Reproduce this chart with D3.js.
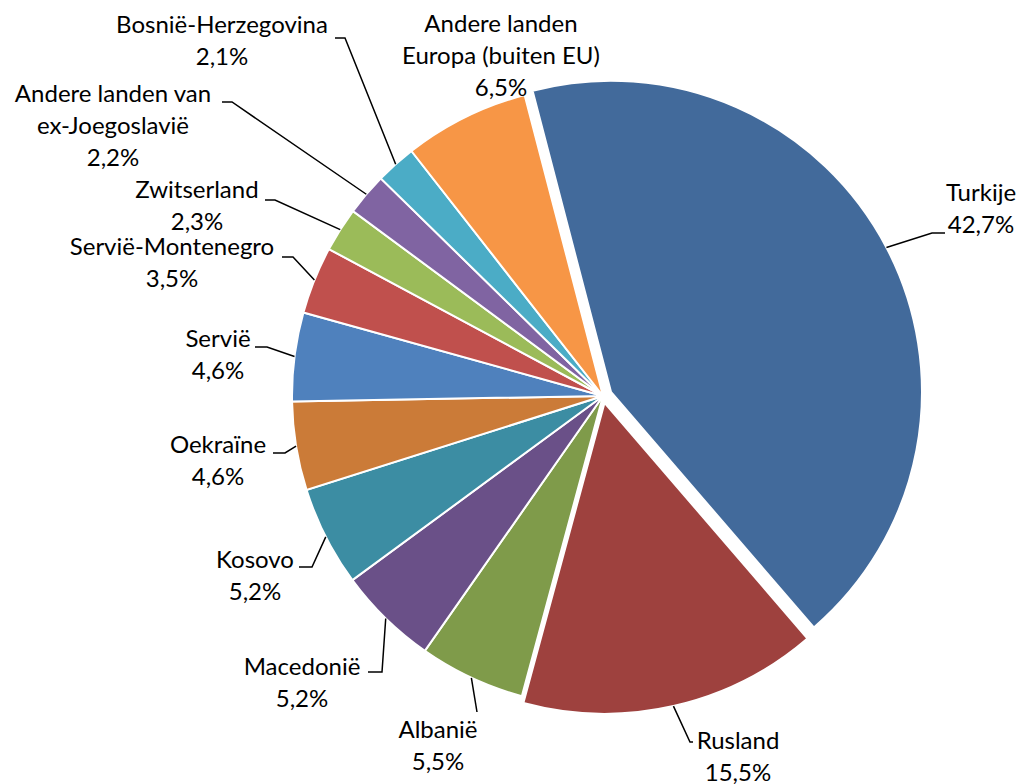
<!DOCTYPE html>
<html>
<head>
<meta charset="utf-8">
<script src="https://cdn.jsdelivr.net/npm/d3@7"></script>
<style>
  body { margin: 0; background: #fff; }
  svg { display: block; }
  text { font-family: Lato, "Open Sans", sans-serif; font-size: 24px; fill: #000; }
</style>
</head>
<body>
<svg id="chart" width="1020" height="784"></svg>
<script>
// data
var landen = ["Turkije", "Rusland", "Albanië", "Macedonië", "Kosovo", "Oekraïne",
  "Servië", "Servië-Montenegro", "Zwitserland", "Andere landen van ex-Joegoslavië",
  "Bosnië-Herzegovina", "Andere landen Europa (buiten EU)"];
var aandeel = [42.7, 15.5, 5.5, 5.2, 5.2, 4.6, 4.6, 3.5, 2.3, 2.2, 2.1, 6.5];
var labelRegels = [["Turkije"], ["Rusland"], ["Albanië"], ["Macedonië"], ["Kosovo"],
  ["Oekraïne"], ["Servië"], ["Servië-Montenegro"], ["Zwitserland"],
  ["Andere landen van", "ex-Joegoslavië"], ["Bosnië-Herzegovina"],
  ["Andere landen", "Europa (buiten EU)"]];

// styling / layout
var kleuren = ["#426a9b", "#9e413e", "#7f9b4a", "#6a5088", "#3c8da3", "#cb7b38",
  "#4f81bd", "#c0504d", "#9bbb59", "#8064a2", "#4bacc6", "#f79646"];
var uitsteek = [9, 7, 0, 0, 0, 0, 0, 0, 0, 0, 0, 0];
// label: centre x, first baseline y; leader: elbow point and end point
var labelPos = [[981, 201], [738, 749], [438, 738], [302, 675], [255, 568], [218, 453],
  [218, 347], [172, 255], [197, 198], [113, 102], [222, 33], [501, 32]];
var leader = [
  [[932, 233], [945, 233]],
  [[690, 742], [693, 742]],
  [[477, 712], [477, 712]],
  [[382, 672], [368, 672]],
  [[312, 567], [299, 567]],
  [[285, 453], [273, 453]],
  [[267, 347], [255, 347]],
  [[293, 257], [282, 257]],
  [[275, 200], [265, 200]],
  [[232, 102], [222, 102]],
  [[345, 38], [335, 38]],
  null
];

var cx = 603, cy = 396, r = 311;
var start = -14.6 * Math.PI / 180;
var fmt = function(v) { return v.toFixed(1).replace(".", ",") + "%"; };

var svg = d3.select("#chart");

var pie = d3.pie().sort(null).startAngle(start).endAngle(start + 2 * Math.PI);
var arcs = pie(aandeel);
var arc = d3.arc().innerRadius(0).outerRadius(r);

var g = svg.append("g").attr("transform", "translate(" + cx + "," + cy + ")");

g.selectAll("path")
  .data(arcs)
  .enter()
  .append("path")
    .attr("d", arc)
    .attr("transform", function(d, i) {
      var m = (d.startAngle + d.endAngle) / 2;
      return "translate(" + (uitsteek[i] * Math.sin(m)) + "," + (-uitsteek[i] * Math.cos(m)) + ")";
    })
    .style("fill", function(d, i) { return kleuren[i]; })
    .style("stroke", "#fff")
    .style("stroke-width", 2);

// leader lines
arcs.forEach(function(d, i) {
  if (!leader[i]) return;
  var m = (d.startAngle + d.endAngle) / 2;
  var rr = r + uitsteek[i];
  var p0 = [cx + rr * Math.sin(m), cy - rr * Math.cos(m)];
  svg.append("polyline")
    .attr("points", [p0, leader[i][0], leader[i][1]].map(function(p) { return p.join(","); }).join(" "))
    .style("fill", "none")
    .style("stroke", "#000")
    .style("stroke-width", 1.5);
});

// labels
var labels = svg.selectAll("text.lbl")
  .data(arcs)
  .enter()
  .append("text")
    .attr("class", "lbl")
    .attr("text-anchor", "middle");

labels.each(function(d, i) {
  var t = d3.select(this);
  var regels = labelRegels[i].concat([fmt(aandeel[i])]);
  regels.forEach(function(s, j) {
    t.append("tspan")
      .attr("x", labelPos[i][0])
      .attr("y", labelPos[i][1] + j * 32)
      .text(s);
  });
});
</script>
</body>
</html>
